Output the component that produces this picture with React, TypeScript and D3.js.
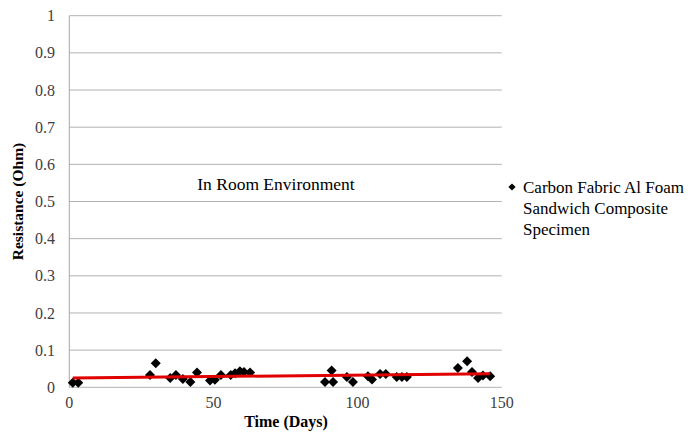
import React from "react";
import * as d3 from "d3";

// Measured resistance of the specimen over time
const days = [1.2, 3.1, 28, 30, 35, 37, 39.4, 42, 44.3, 48.8, 50.5, 52.6, 56, 57.5, 59.2, 60.6, 62.7,
  88.7, 91, 91.5, 96.3, 98.4, 103.6, 105, 107.8, 109.8, 113.6, 115.4, 117.1,
  134.8, 138, 139.7, 141.8, 143.5, 146];
const resistance = [0.012, 0.012, 0.033, 0.065, 0.025, 0.033, 0.022, 0.014, 0.04, 0.018, 0.02, 0.033, 0.033, 0.038, 0.043, 0.041, 0.04,
  0.014, 0.045, 0.014, 0.028, 0.014, 0.03, 0.021, 0.036, 0.036, 0.028, 0.028, 0.028,
  0.052, 0.07, 0.041, 0.025, 0.032, 0.03];

const xTicks = [0, 50, 100, 150];
const yTicks = [0, 0.1, 0.2, 0.3, 0.4, 0.5, 0.6, 0.7, 0.8, 0.9, 1];
const seriesName = ["Carbon Fabric Al Foam", "Sandwich Composite", "Specimen"];
const annotation = "In Room Environment";

const W = 692;
const H = 444;
const plot = { left: 69.3, right: 501.7, top: 15.7, bottom: 387.3 };
const font = "Liberation Serif, DejaVu Serif, serif";

export default function App() {
  const x = d3.scaleLinear().domain([0, 150]).range([plot.left, plot.right]);
  const y = d3.scaleLinear().domain([0, 1]).range([plot.bottom, plot.top]);

  // least-squares linear trend
  const mx = d3.mean(days)!;
  const my = d3.mean(resistance)!;
  let sxy = 0;
  let sxx = 0;
  days.forEach((d, i) => {
    sxy += (d - mx) * (resistance[i] - my);
    sxx += (d - mx) * (d - mx);
  });
  const slope = sxy / sxx;
  const intercept = my - slope * mx;
  const [x0, x1] = d3.extent(days) as [number, number];
  const trend = d3.line<number>().x((d) => x(d)).y((d) => y(intercept + slope * d));

  const marker = d3.symbol().type(d3.symbolSquare).size(50)()!;
  const legendMarker = d3.symbol().type(d3.symbolSquare).size(26)()!;

  return (
    <svg width={W} height={H} style={{ position: "absolute", left: 0, top: 0, background: "#fff" }}>
      {yTicks.map((t) => (
        <line key={t} x1={plot.left} x2={plot.right} y1={y(t)} y2={y(t)} stroke="#b3b3b3" strokeWidth={1} />
      ))}
      <line x1={plot.left} x2={plot.left} y1={plot.top} y2={plot.bottom} stroke="#a6a6a6" strokeWidth={1} />
      {yTicks.map((t) => (
        <text key={t} x={55} y={y(t)} dy="0.35em" textAnchor="end" fontFamily={font} fontSize={16} fill="#404040">
          {d3.format("~g")(t)}
        </text>
      ))}
      {xTicks.map((t) => (
        <text key={t} x={x(t)} y={408} textAnchor="middle" fontFamily={font} fontSize={16} fill="#404040">
          {t}
        </text>
      ))}
      <text x={286} y={427} textAnchor="middle" fontFamily={font} fontSize={16} fontWeight="bold" fill="#000">
        Time (Days)
      </text>
      <text transform={`translate(23,${(plot.top + plot.bottom) / 2}) rotate(-90)`} textAnchor="middle" fontFamily={font} fontSize={15.5} fontWeight="bold" fill="#000">
        Resistance (Ohm)
      </text>
      <text x={276} y={190} textAnchor="middle" fontFamily={font} fontSize={17.5} fill="#000">
        {annotation}
      </text>
      {days.map((d, i) => (
        <path key={i} d={marker} transform={`translate(${x(d)},${y(resistance[i])}) rotate(45)`} fill="#000" />
      ))}
      <path d={trend([x0, x1])!} stroke="#e00000" strokeWidth={3} fill="none" />
      <path d={legendMarker} transform="translate(512,187) rotate(45)" fill="#000" />
      {seriesName.map((s, i) => (
        <text key={s} x={523} y={193 + i * 21} fontFamily={font} fontSize={17} fill="#000">
          {s}
        </text>
      ))}
    </svg>
  );
}
